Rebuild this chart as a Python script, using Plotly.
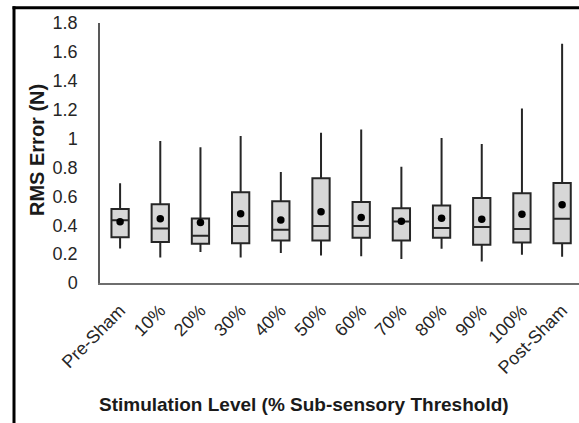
import plotly.graph_objects as go

categories = ["Pre-Sham", "10%", "20%", "30%", "40%", "50%", "60%", "70%", "80%", "90%", "100%", "Post-Sham"]
whisker_low = [0.238, 0.177, 0.214, 0.177, 0.207, 0.191, 0.186, 0.166, 0.237, 0.149, 0.195, 0.182]
q1 = [0.316, 0.283, 0.271, 0.276, 0.294, 0.294, 0.313, 0.294, 0.313, 0.264, 0.281, 0.276]
median = [0.434, 0.377, 0.327, 0.394, 0.368, 0.394, 0.394, 0.425, 0.380, 0.387, 0.373, 0.444]
q3 = [0.512, 0.545, 0.446, 0.628, 0.566, 0.725, 0.561, 0.518, 0.536, 0.589, 0.621, 0.693]
whisker_high = [0.690, 0.983, 0.939, 1.017, 0.769, 1.040, 1.063, 0.805, 1.003, 0.962, 1.208, 1.657]
mean = [0.424, 0.444, 0.419, 0.479, 0.437, 0.494, 0.453, 0.428, 0.449, 0.442, 0.476, 0.541]

y_tickvals = [0, 0.2, 0.4, 0.6, 0.8, 1.0, 1.2, 1.4, 1.6, 1.8]
y_ticktext = ["0", "0.2", "0.4", "0.6", "0.8", "1", "1.2", "1.4", "1.6", "1.8"]

FONT = "Arial, 'Liberation Sans', sans-serif"

fig = go.Figure()
fig.add_trace(go.Box(
    x=categories,
    q1=q1, median=median, q3=q3,
    lowerfence=whisker_low, upperfence=whisker_high,
    fillcolor="rgb(215,215,215)",
    line=dict(color="#262626", width=2),
    whiskerwidth=0,
    width=0.43,
    boxpoints=False,
    hoverinfo="skip",
    showlegend=False,
))
fig.add_trace(go.Scatter(
    x=categories, y=mean, mode="markers",
    marker=dict(color="black", size=7.5),
    showlegend=False, hoverinfo="skip",
))

W, H = 579, 423
L, R, T, B = 100, 0, 22.7, 139.7
pw = W - L - R
ph = H - T - B

def px_x(p):
    return (p - L) / pw

def px_y(p):
    return (H - B - p) / ph

fig.update_layout(
    width=W, height=H,
    margin=dict(l=L, r=R, t=T, b=B, pad=0),
    paper_bgcolor="white", plot_bgcolor="white",
    font=dict(family=FONT, color="#262626"),
    xaxis=dict(
        type="category",
        range=[-0.5, 11.42],
        showline=True, linecolor="#6e6e6e", linewidth=2,
        showgrid=False, zeroline=False, ticks="",
        tickangle=-45,
        tickfont=dict(size=18, family=FONT, color="#262626"),
        ticklabelstandoff=8,
    ),
    yaxis=dict(
        range=[0, 1.8],
        tickvals=y_tickvals, ticktext=y_ticktext,
        showline=True, linecolor="#595959", linewidth=1.5,
        showgrid=False, zeroline=False, ticks="",
        tickfont=dict(size=18, family=FONT, color="#262626"),
        ticklabelstandoff=17,
    ),
    shapes=[
        dict(type="rect", xref="paper", yref="paper",
             x0=px_x(12.5), x1=px_x(15.5), y0=px_y(6), y1=px_y(430),
             fillcolor="black", line=dict(width=0), layer="above"),
        dict(type="rect", xref="paper", yref="paper",
             x0=px_x(12.5), x1=1.0, y0=px_y(6), y1=px_y(9),
             fillcolor="black", line=dict(width=0), layer="above"),
    ],
    annotations=[
        dict(text="<b>Stimulation Level (% Sub-sensory Threshold)</b>",
             xref="paper", yref="paper", x=px_x(304), y=px_y(405),
             xanchor="center", yanchor="middle", showarrow=False,
             font=dict(size=19, family=FONT, color="#1a1a1a")),
        dict(text="<b>RMS Error (N)</b>",
             xref="paper", yref="paper", x=px_x(37), y=px_y(150),
             xanchor="center", yanchor="middle", showarrow=False, textangle=-90,
             font=dict(size=20, family=FONT, color="#1a1a1a")),
    ],
)

fig.write_html("out.html", config={"displayModeBar": False})
